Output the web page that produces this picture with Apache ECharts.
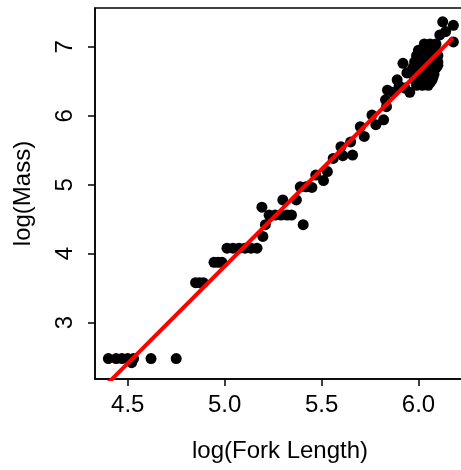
<!DOCTYPE html>
<html><head><meta charset="utf-8">
<script src="https://cdn.jsdelivr.net/npm/echarts@6/dist/echarts.min.js"></script>
<style>html,body{margin:0;padding:0;background:#fff}#c{width:461px;height:470px}</style>
</head><body><div id="c"></div>
<script>
// Observed points: log(Fork Length) vs log(Mass)
const logForkLength = [
  4.40, 4.44, 4.47, 4.50, 4.52, 4.53, 4.62, 4.75,
  4.85, 4.87, 4.89,
  4.945, 4.966, 4.986,
  5.012, 5.043, 5.074, 5.105, 5.136, 5.167,
  5.197, 5.21, 5.192,
  5.229, 5.260, 5.291, 5.322, 5.345,
  5.30, 5.37, 5.405,
  5.39, 5.42, 5.45, 5.47, 5.51, 5.53,
  5.56, 5.61, 5.66, 5.60, 5.65,
  5.70, 5.72, 5.76, 5.78, 5.82, 5.835,
  5.83, 5.84, 5.87, 5.89, 5.90, 5.92, 5.93, 5.94, 5.955,
  6.03, 6.06, 6.09,
  6.00, 6.03, 6.06, 6.09,
  5.99, 6.02, 6.05, 6.08, 6.10,
  5.98, 6.01, 6.04, 6.07, 6.10,
  5.97, 6.00, 6.03, 6.06, 6.09,
  5.97, 6.00, 6.03, 6.06, 6.08,
  5.98, 6.01, 6.04, 6.07,
  5.99, 6.02, 6.05,
  6.015, 6.045, 6.075,
  6.00, 6.03, 6.06, 6.09,
  5.985, 6.015, 6.045, 6.075, 6.10,
  5.985, 6.015, 6.045, 6.075,
  5.99, 6.02, 6.05, 6.075,
  6.00, 6.03, 6.06,
  6.125, 6.18, 6.14, 6.18, 6.11
];
const logMass = [
  2.48, 2.48, 2.48, 2.48, 2.42, 2.48, 2.48, 2.48,
  3.58, 3.58, 3.58,
  3.875, 3.875, 3.875,
  4.08, 4.08, 4.08, 4.08, 4.08, 4.08,
  4.25, 4.42, 4.675,
  4.56, 4.56, 4.56, 4.56, 4.56,
  4.78, 4.78, 4.42,
  4.97, 4.97, 4.96, 5.14, 5.06, 5.19,
  5.38, 5.42, 5.43, 5.55, 5.62,
  5.84, 5.70, 6.01, 5.87, 5.94, 6.13,
  6.23, 6.37, 6.34, 6.52, 6.43, 6.76, 6.40, 6.62, 6.34,
  7.04, 7.04, 7.04,
  6.95, 6.95, 6.95, 6.95,
  6.87, 6.87, 6.87, 6.87, 6.87,
  6.78, 6.78, 6.78, 6.78, 6.78,
  6.69, 6.69, 6.69, 6.69, 6.69,
  6.60, 6.60, 6.60, 6.60, 6.60,
  6.52, 6.52, 6.52, 6.52,
  6.44, 6.44, 6.44,
  6.91, 6.91, 6.91,
  6.82, 6.82, 6.82, 6.82,
  6.73, 6.73, 6.73, 6.73, 6.73,
  6.64, 6.64, 6.64, 6.64,
  6.56, 6.56, 6.56, 6.56,
  6.48, 6.48, 6.48,
  7.36, 7.31, 7.22, 7.07, 7.17
];
// Fitted regression line end points
const fitX = [4.40, 6.178];
const fitY = [2.13, 7.13];
// Axis ticks
const xTicks = [4.5, 5.0, 5.5, 6.0];
const yTicks = [3, 4, 5, 6, 7];
const xRange = [4.331, 6.24];
const yRange = [2.184, 7.561];

const font = "'Liberation Sans', Arial, Helvetica, sans-serif";
const chart = echarts.init(document.getElementById('c'), null, {renderer: 'canvas'});
chart.setOption({
  animation: false,
  backgroundColor: '#ffffff',
  grid: {left: 95, top: 8, width: 370, height: 371, show: true, borderColor: '#000', borderWidth: 1.5, containLabel: false, outerBoundsMode: 'none'},
  xAxis: {
    type: 'value', min: xRange[0], max: xRange[1],
    name: 'log(Fork Length)', nameLocation: 'middle', nameGap: 60,
    nameTextStyle: {fontFamily: font, fontSize: 24, color: '#000'},
    axisLine: {show: true, onZero: false, lineStyle: {color: '#000', width: 1.5}},
    axisTick: {show: true, length: 7, lineStyle: {color: '#000', width: 1.5}, customValues: xTicks},
    axisLabel: {show: true, margin: 14, fontFamily: font, fontSize: 24, color: '#000', customValues: xTicks,
      formatter: v => Number(v).toFixed(1)},
    splitLine: {show: false}
  },
  yAxis: {
    type: 'value', min: yRange[0], max: yRange[1],
    name: 'log(Mass)', nameLocation: 'middle', nameGap: 60, nameRotate: 90,
    nameTextStyle: {fontFamily: font, fontSize: 24, color: '#000'},
    axisLine: {show: true, onZero: false, lineStyle: {color: '#000', width: 1.5}},
    axisTick: {show: true, length: 7, lineStyle: {color: '#000', width: 1.5}, customValues: yTicks},
    axisLabel: {show: true, margin: 18, rotate: 90, fontFamily: font, fontSize: 24, color: '#000', customValues: yTicks,
      formatter: v => String(Math.round(v))},
    splitLine: {show: false}
  },
  series: [
    {
      type: 'scatter', symbol: 'circle', symbolSize: 11,
      itemStyle: {color: '#000', opacity: 1},
      data: logForkLength.map((x, i) => [x, logMass[i]]),
      silent: true, z: 2
    },
    {
      type: 'line', showSymbol: false, symbol: 'none', clip: true,
      lineStyle: {color: '#ff0000', width: 4},
      data: fitX.map((x, i) => [x, fitY[i]]),
      silent: true, z: 3
    }
  ]
});
</script>
</body></html>
